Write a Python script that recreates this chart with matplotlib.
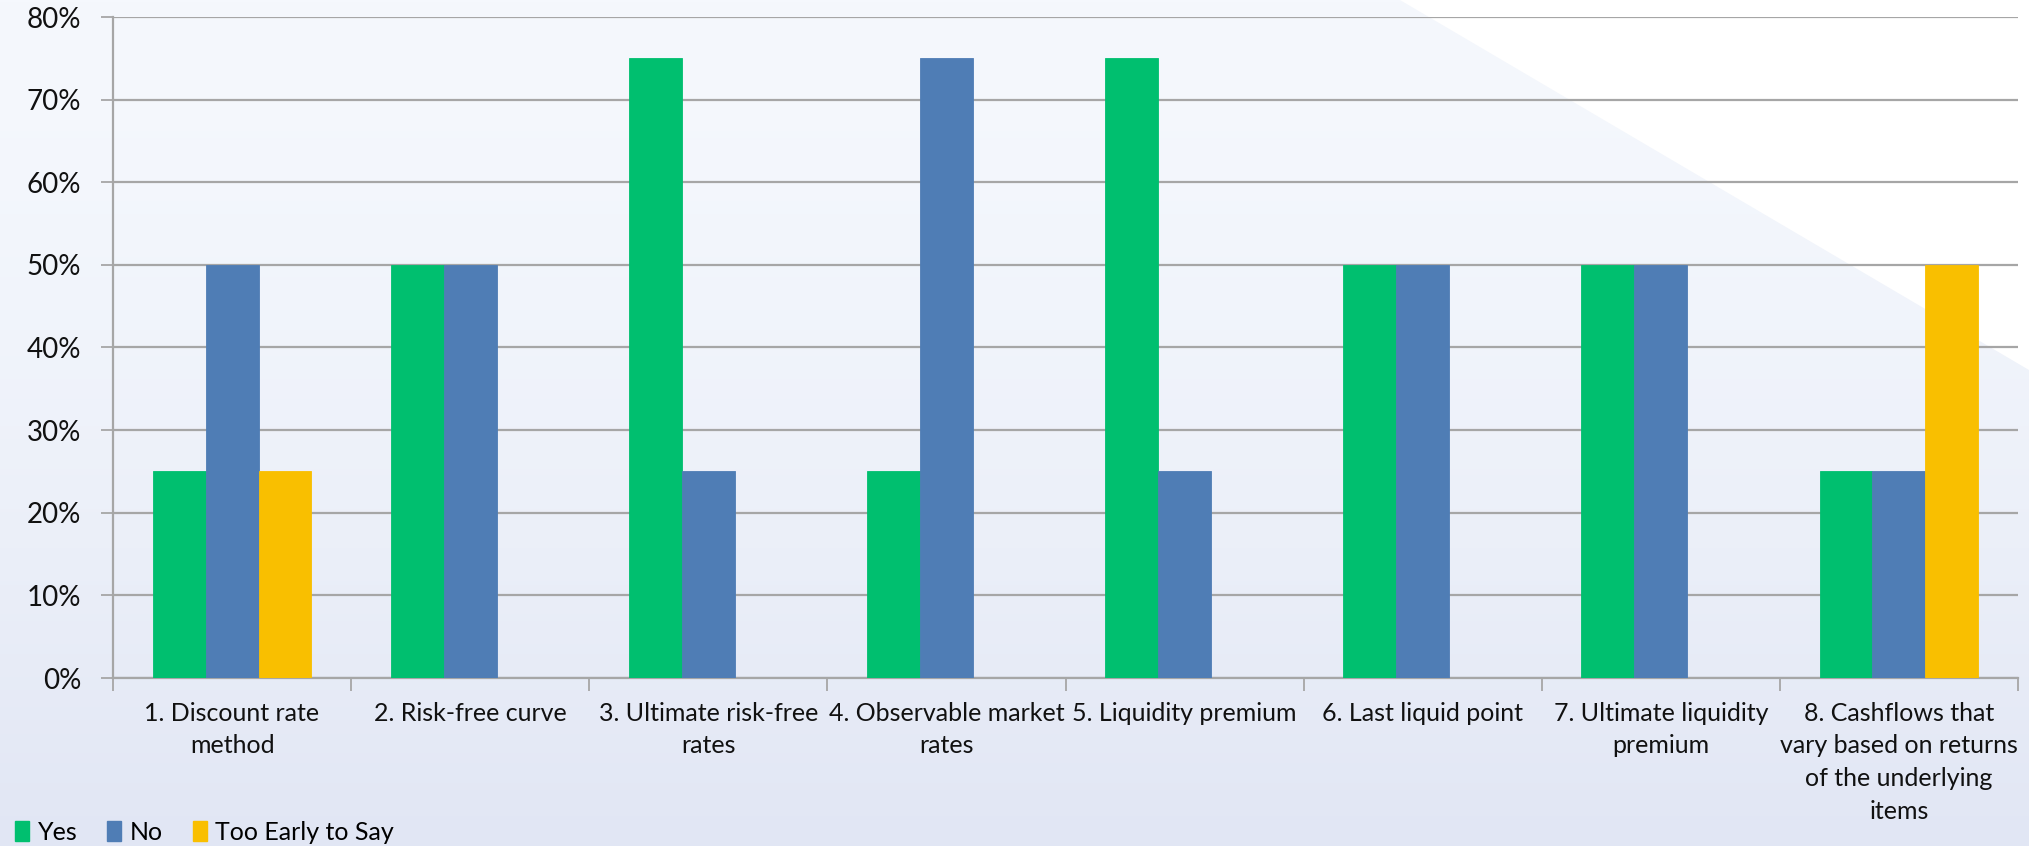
import numpy as np
import matplotlib
matplotlib.use("Agg")
import matplotlib.pyplot as plt
from matplotlib.patches import Polygon, Patch
from matplotlib.ticker import FuncFormatter, MultipleLocator

plt.rcParams['font.family'] = ['Lato', 'DejaVu Sans']

categories = [
    "1. Discount rate\nmethod",
    "2. Risk-free curve",
    "3. Ultimate risk-free\nrates",
    "4. Observable market\nrates",
    "5. Liquidity premium",
    "6. Last liquid point",
    "7. Ultimate liquidity\npremium",
    "8. Cashflows that\nvary based on returns\nof the underlying\nitems",
]
yes_pct = [25, 50, 75, 25, 75, 50, 50, 25]
no_pct = [50, 50, 25, 75, 25, 50, 50, 25]
too_early_pct = [25, 0, 0, 0, 0, 0, 0, 50]

series = [
    ("Yes", yes_pct, "#00BF6F"),
    ("No", no_pct, "#4F7DB5"),
    ("Too Early to Say", too_early_pct, "#F9BF00"),
]

W, H = 2029, 846
fig = plt.figure(figsize=(W / 100, H / 100), dpi=100)

# slide-style background: soft vertical gradient plus a white corner wedge
bg = fig.add_axes([0, 0, 1, 1], zorder=0)
grad = np.linspace(0, 1, 256)[:, None, None]
top_c = np.array([245, 248, 253]) / 255
bot_c = np.array([225, 230, 244]) / 255
img = top_c + (bot_c - top_c) * grad ** 1.6
bg.imshow(img, extent=[0, 1, 0, 1], aspect='auto', origin='upper')
bg.add_patch(Polygon([[1400 / W, 1], [1, 1], [1, 1 - 370 / H]],
                     closed=True, color='white', lw=0))
bg.set_xlim(0, 1)
bg.set_ylim(0, 1)
bg.axis('off')

ax = fig.add_axes([113 / W, 1 - 678 / H, (2018 - 113) / W, (678 - 17) / H], zorder=1)
ax.patch.set_alpha(0)

x = np.arange(len(categories))
bw = 1 / 4.5
for i, (name, vals, col) in enumerate(series):
    ax.bar(x + (i - 1) * bw, vals, bw, color=col, edgecolor=col,
           linewidth=0.6, zorder=3, label=name)

ax.set_xlim(-0.5, len(categories) - 0.5)
ax.set_ylim(0, 80)
ax.yaxis.set_major_locator(MultipleLocator(10))
ax.yaxis.set_major_formatter(FuncFormatter(lambda v, p: f"{v:.0f}%"))
ax.grid(axis='y', color='#A6A6A6', linewidth=1.6, zorder=0)

ax.set_xticks(x)
ax.set_xticklabels(categories, fontsize=18, linespacing=1.52, color='#111111')
ax.set_xticks(np.arange(len(categories) + 1) - 0.5, minor=True)
ax.tick_params(axis='x', which='major', length=0, pad=17)
ax.tick_params(axis='x', which='minor', length=9, width=1.3, color='#A6A6A6')
ax.tick_params(axis='y', length=9, width=1.3, color='#A6A6A6', labelsize=20,
               labelcolor='#111111', pad=14)

for side in ['top', 'right']:
    ax.spines[side].set_visible(False)
for side in ['left', 'bottom']:
    ax.spines[side].set_color('#A6A6A6')
    ax.spines[side].set_linewidth(1.6)

handles = [Patch(facecolor=c, edgecolor=c) for _, _, c in series]
labels = [n for n, _, _ in series]
fig.legend(handles, labels, loc='lower left', bbox_to_anchor=(0.0, -0.015),
           ncol=3, frameon=False, fontsize=18, handlelength=0.55,
           handleheight=0.8, handletextpad=0.35, columnspacing=1.2,
           borderaxespad=0.2)

fig.savefig("out.png", dpi=100)
